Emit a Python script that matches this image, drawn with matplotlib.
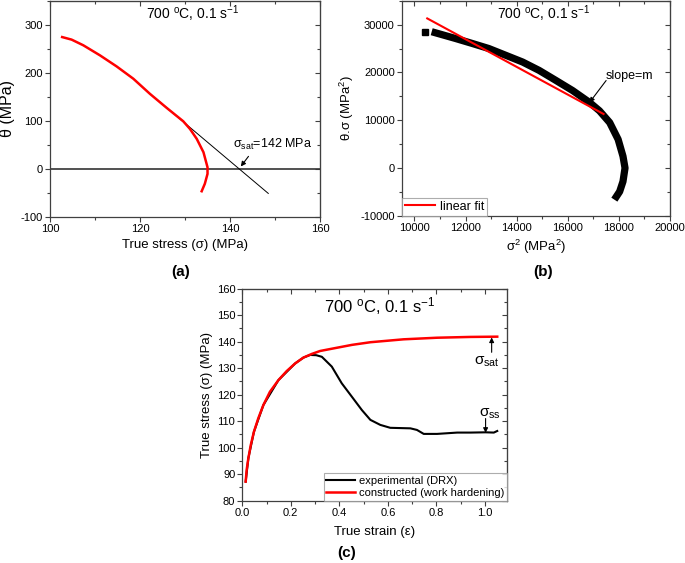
import matplotlib
matplotlib.use('Agg')
import matplotlib.pyplot as plt
from matplotlib.ticker import MultipleLocator

plt.rcParams['font.family'] = ['Liberation Sans', 'DejaVu Sans']
plt.rcParams['mathtext.fontset'] = 'custom'
plt.rcParams['mathtext.rm'] = 'Liberation Sans'
plt.rcParams['mathtext.it'] = 'Liberation Sans:italic'
plt.rcParams['mathtext.bf'] = 'Liberation Sans:bold'
plt.rcParams['axes.unicode_minus'] = False

# ---------------- data ----------------
# (a) theta vs true stress
a_stress = [102.7, 104.8, 107.4, 111.1, 114.8, 118.5, 122.2, 125.9, 129.6, 131.1,
            132.6, 134.1, 135.0, 135.0, 134.4, 133.7]
a_theta = [274, 268.7, 256.9, 236, 213, 187.5, 156, 127, 99, 83,
           62.5, 34.6, 3.3, -10.4, -31, -46.5]
a_fit_stress = [124.4, 148.5]
a_fit_theta = [139.0, -51.0]
a_sat = 142

# (b) theta*sigma vs sigma^2
b_sig2 = [10420, 10810, 11600, 12260, 12910, 13570, 14230, 14880, 15540, 16190,
          16850, 17240, 17640, 17970, 18160, 18240, 18160, 18030, 17900]
b_thsig = [28380, 28310, 27110, 26060, 25000, 23590, 22180, 20420, 18310, 16200,
           13730, 11970, 9510, 5990, 2460, 0, -2820, -4930, -5990]
b_fit_x = [10500, 17400]
b_fit_y = [31300, 11300]

# (c) true stress vs true strain
c_con_strain = [0.014, 0.018, 0.025, 0.035, 0.048, 0.066, 0.087, 0.114, 0.149, 0.183,
                0.218, 0.252, 0.287, 0.321, 0.355, 0.452, 0.528, 0.665, 0.803, 0.941, 1.051]
c_con_stress = [87.2, 91.6, 96.0, 101.0, 106.0, 111.1, 116.1, 121.1, 125.5, 128.9,
                131.8, 134.0, 135.4, 136.5, 137.1, 138.8, 139.8, 140.9, 141.5, 141.8, 141.9]
c_exp_strain = [0.014, 0.025, 0.048, 0.087, 0.149, 0.218, 0.252, 0.28, 0.305, 0.328,
                0.369, 0.41, 0.452, 0.493, 0.528, 0.569, 0.61, 0.693, 0.72, 0.748,
                0.803, 0.886, 0.941, 1.003, 1.037, 1.051]
c_exp_stress = [87.2, 96.0, 106.0, 116.1, 125.5, 131.8, 134.0, 135.0, 134.9, 134.3,
                130.6, 124.3, 119.2, 114.2, 110.5, 108.6, 107.5, 107.3, 106.7, 105.2,
                105.2, 105.7, 105.7, 105.8, 105.7, 106.3]

title_txt = r'700 $\mathregular{^{o}}$C, 0.1 s$\mathregular{^{-1}}$'

# ---------------- figure ----------------
fig = plt.figure(figsize=(6.85, 5.63), dpi=100)
SP = '#404040'


def style(ax, xmaj, xmin, ymaj, ymin):
    for s in ax.spines.values():
        s.set_color(SP)
        s.set_linewidth(0.9)
    ax.xaxis.set_major_locator(MultipleLocator(xmaj))
    ax.xaxis.set_minor_locator(MultipleLocator(xmin))
    ax.yaxis.set_major_locator(MultipleLocator(ymaj))
    ax.yaxis.set_minor_locator(MultipleLocator(ymin))
    ax.tick_params(which='both', direction='out', labelsize=8, pad=1.5,
                   color=SP, top=False, right=False)
    ax.tick_params(which='major', length=3.5, width=0.8)
    ax.tick_params(which='minor', length=2.0, width=0.8)
    sx = ax.secondary_xaxis('top')
    sx.xaxis.set_major_locator(MultipleLocator(xmaj))
    sx.xaxis.set_minor_locator(MultipleLocator(xmin))
    sx.tick_params(which='both', direction='in', labeltop=False, color=SP)
    sx.tick_params(which='major', length=3.5, width=0.8)
    sx.tick_params(which='minor', length=2.0, width=0.8)
    sx.spines['top'].set_color(SP)
    sy = ax.secondary_yaxis('right')
    sy.yaxis.set_major_locator(MultipleLocator(ymaj))
    sy.yaxis.set_minor_locator(MultipleLocator(ymin))
    sy.tick_params(which='both', direction='in', labelright=False, color=SP)
    sy.tick_params(which='major', length=3.5, width=0.8)
    sy.tick_params(which='minor', length=2.0, width=0.8)
    sy.spines['right'].set_color(SP)


arrow = dict(arrowstyle='-|>', color='k', lw=0.8, mutation_scale=7, shrinkA=0, shrinkB=0)

# (a)
axa = fig.add_axes([0.0730, 0.6146, 0.3942, 0.3845])
axa.axhline(0, color='#333333', lw=1.2, zorder=1)
axa.plot(a_fit_stress, a_fit_theta, color='k', lw=0.7, zorder=2)
axa.plot(a_stress, a_theta, color='red', lw=1.8, zorder=3)
axa.set_xlim(100, 160)
axa.set_ylim(-100, 350)
style(axa, 20, 10, 100, 50)
axa.set_xlabel('True stress (σ) (MPa)', fontsize=9.5, labelpad=4)
axa.set_ylabel('θ (MPa)', fontsize=11.5, labelpad=4)
axa.text(0.53, 0.94, title_txt, transform=axa.transAxes, ha='center', va='center', fontsize=10)
axa.text(149.4, 50, r'σ$_{\mathregular{sat}}$=%d MPa' % a_sat, ha='center', va='center', fontsize=9)
axa.annotate('', xy=(142.4, 5), xytext=(144.1, 26), arrowprops=arrow)

# (b)
axb = fig.add_axes([0.5864, 0.6167, 0.3917, 0.3820])
axb.plot(b_sig2[:1], b_thsig[:1], 's', color='k', ms=5, zorder=2)
axb.plot(b_sig2[1:], b_thsig[1:], color='k', lw=5.2, solid_capstyle='projecting', zorder=2)
axb.plot(b_fit_x, b_fit_y, color='red', lw=1.5, zorder=3, label='linear fit')
axb.set_xlim(9500, 20000)
axb.set_ylim(-10000, 35000)
style(axb, 2000, 1000, 10000, 5000)
axb.set_xlabel(r'σ$^{\mathregular{2}}$ (MPa$^{\mathregular{2}}$)', fontsize=9.5, labelpad=4)
axb.set_ylabel(r'θ.σ (MPa$^{\mathregular{2}}$)', fontsize=9.5, labelpad=3)
axb.text(0.53, 0.94, title_txt, transform=axb.transAxes, ha='center', va='center', fontsize=10)
axb.text(18430, 19200, 'slope=m', ha='center', va='center', fontsize=9)
axb.annotate('', xy=(16850, 13700), xytext=(17500, 18300), arrowprops=arrow)
lg = axb.legend(loc='lower left', fontsize=9, frameon=True, fancybox=False,
                borderaxespad=0, handlelength=2.4, borderpad=0.25, handletextpad=0.4)
lg.get_frame().set_edgecolor('#999999')
lg.get_frame().set_linewidth(0.8)

# (c)
axc = fig.add_axes([0.3537, 0.1107, 0.3860, 0.3765])
axc.plot(c_exp_strain, c_exp_stress, color='k', lw=1.5, zorder=2, label='experimental (DRX)')
axc.plot(c_con_strain, c_con_stress, color='red', lw=1.8, zorder=3,
         label='constructed (work hardening)')
axc.set_xlim(0, 1.09)
axc.set_ylim(80, 160)
style(axc, 0.2, 0.1, 10, 5)
axc.set_xlabel('True strain (ε)', fontsize=9.5, labelpad=6)
axc.set_ylabel('True stress (σ) (MPa)', fontsize=9.5, labelpad=3)
axc.text(0.52, 0.92, title_txt, transform=axc.transAxes, ha='center', va='center', fontsize=12)
axc.text(1.01, 132.5, r'σ$_{\mathregular{sat}}$', ha='center', va='center', fontsize=11)
axc.annotate('', xy=(1.028, 141.6), xytext=(1.028, 136.0), arrowprops=arrow)
axc.text(1.02, 112.8, r'σ$_{\mathregular{ss}}$', ha='center', va='center', fontsize=11)
axc.annotate('', xy=(1.003, 105.6), xytext=(1.003, 111.0), arrowprops=arrow)
lg2 = axc.legend(loc='lower right', fontsize=8, frameon=True, fancybox=False,
                 borderaxespad=0, handlelength=2.6, borderpad=0.25, handletextpad=0.3,
                 labelspacing=0.2)
lg2.get_frame().set_edgecolor('#999999')
lg2.get_frame().set_linewidth(0.8)

fig.text(0.263, 0.517, '(a)', ha='center', va='center', fontsize=11, fontweight='bold')
fig.text(0.793, 0.517, '(b)', ha='center', va='center', fontsize=11, fontweight='bold')
fig.text(0.506, 0.018, '(c)', ha='center', va='center', fontsize=11, fontweight='bold')

fig.savefig('out.png', dpi=100)
